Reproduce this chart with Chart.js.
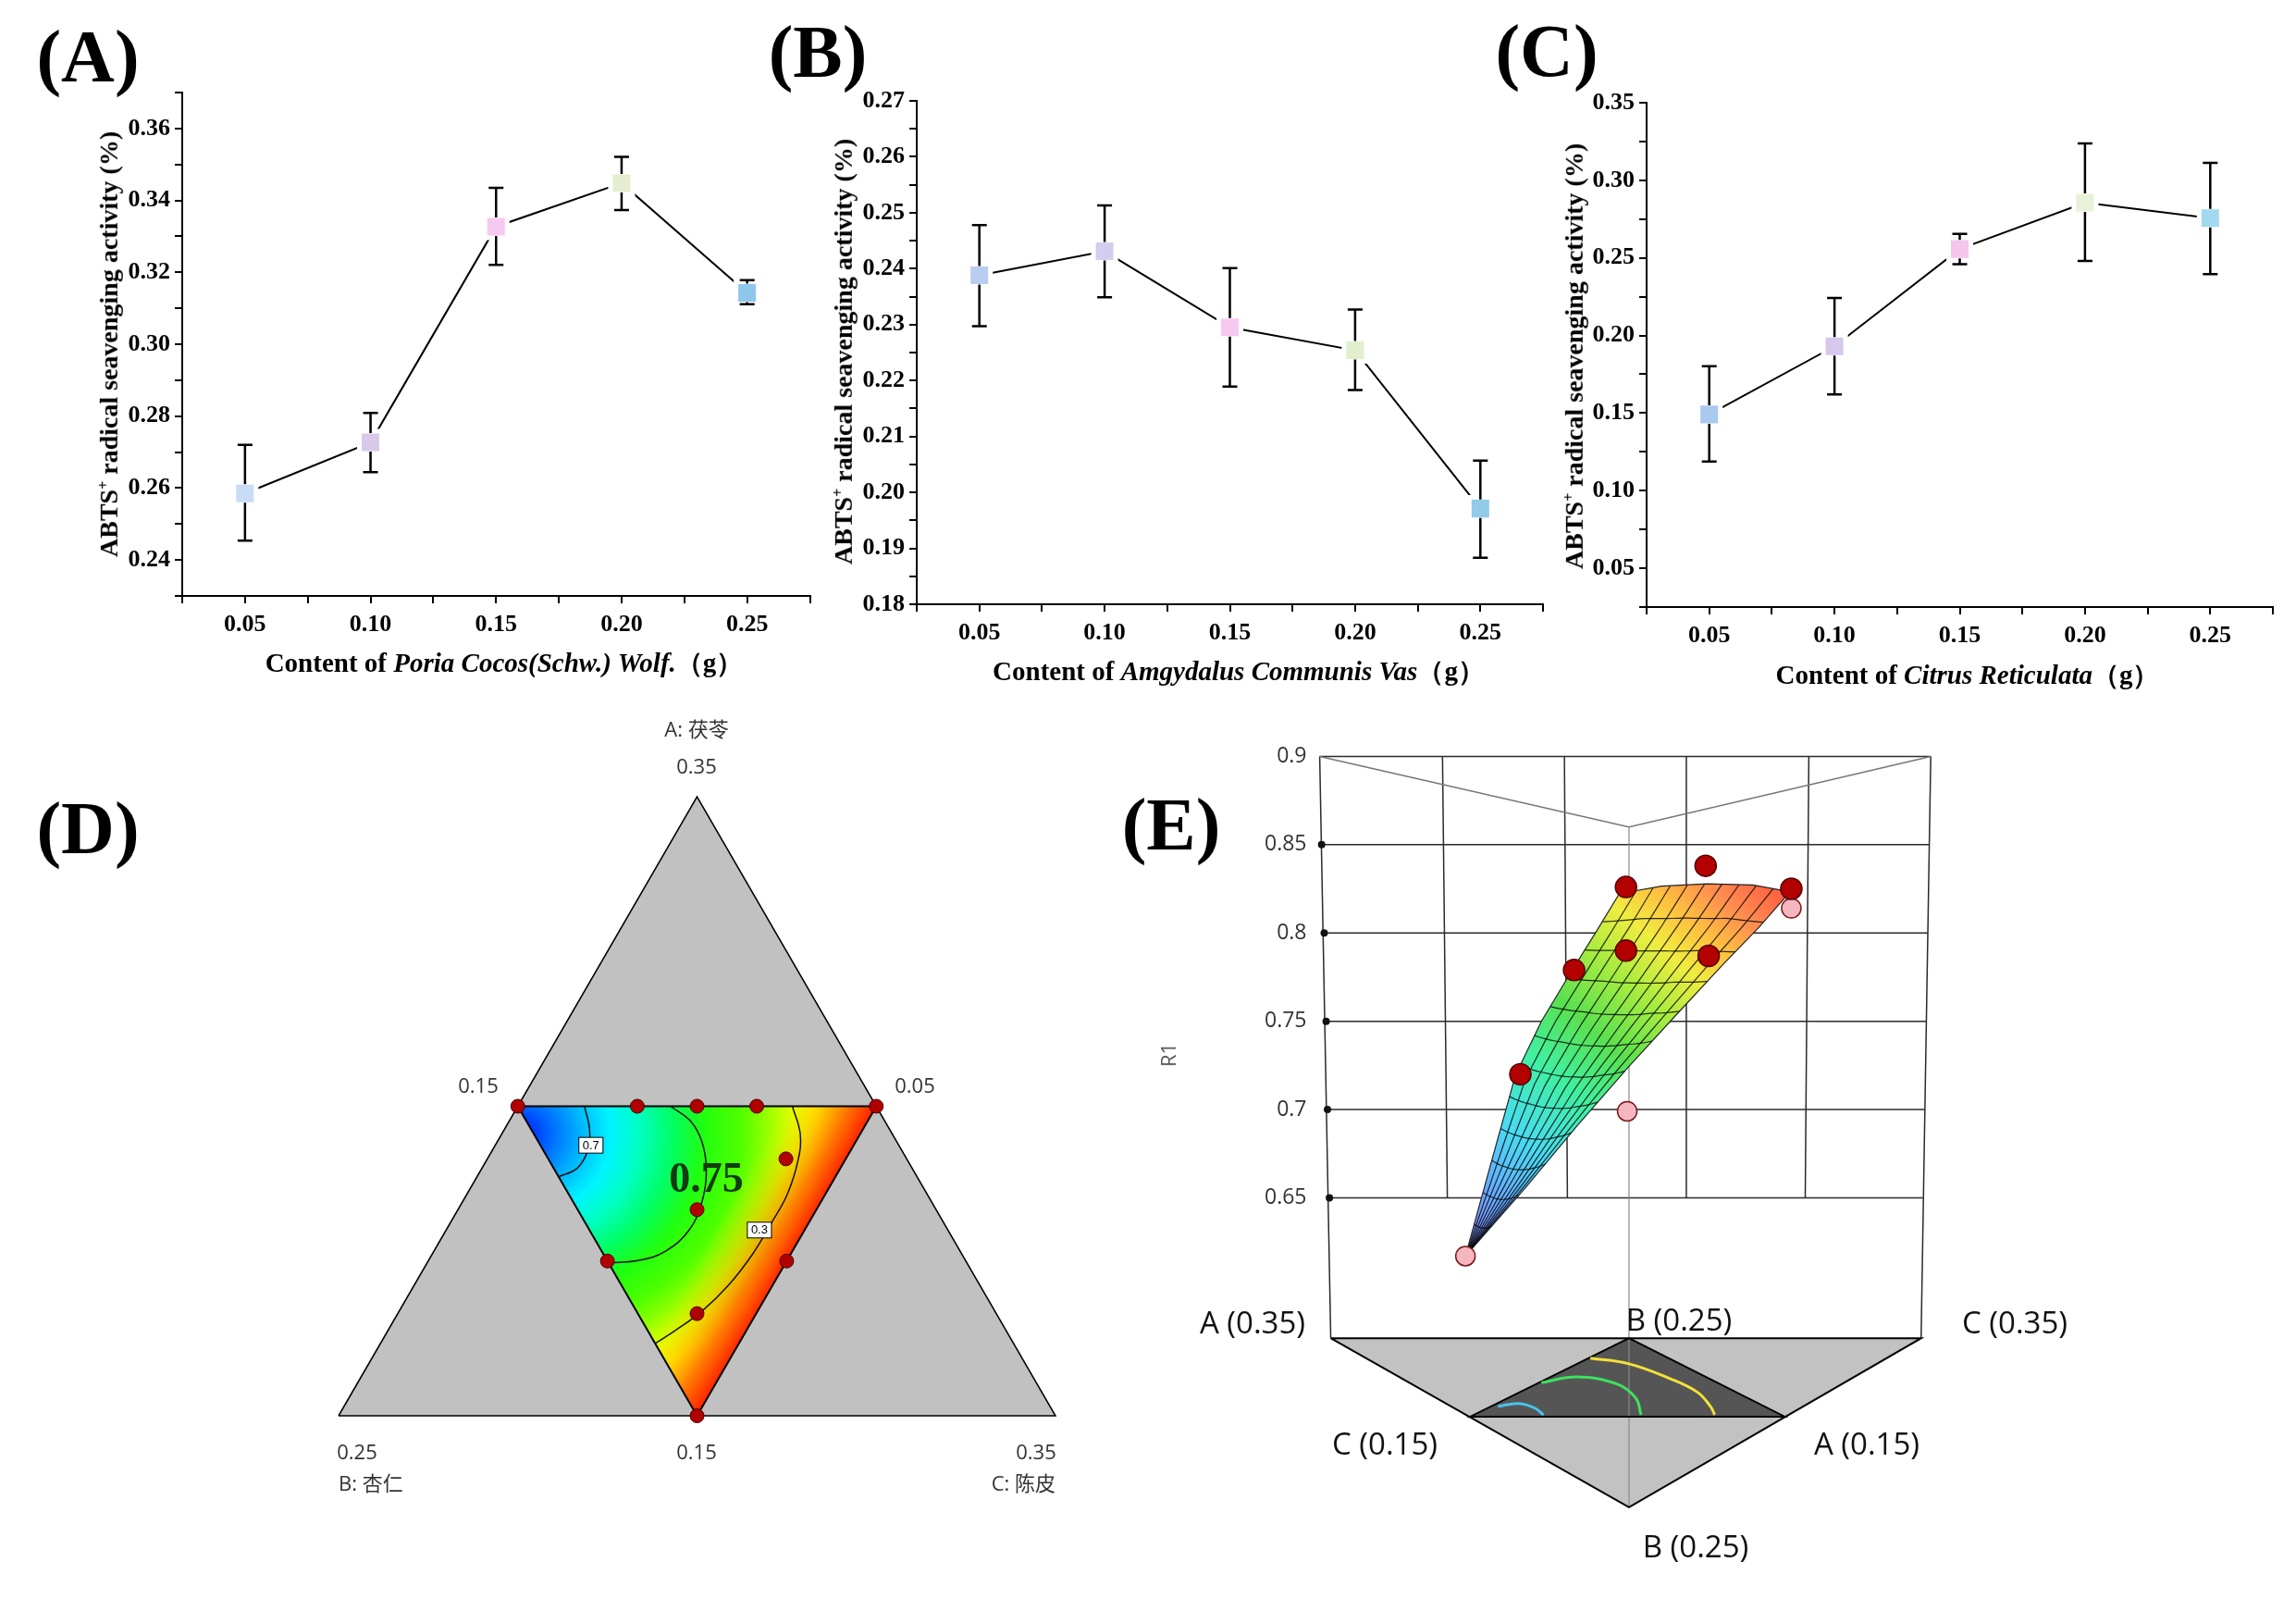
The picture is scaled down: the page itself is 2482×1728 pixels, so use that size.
<!DOCTYPE html>
<html>
<head>
<meta charset="utf-8">
<script src="https://cdn.jsdelivr.net/npm/chart.js@4.4.1/dist/chart.umd.min.js"></script>
<style>
html, body { margin: 0; padding: 0; background: #fff; }
#page { position: relative; width: 2482px; height: 1728px; overflow: hidden; background: #fff; }
canvas { position: absolute; }
.t { position: absolute; transform: translate(-50%, -50%); white-space: nowrap; line-height: 1; }
.serif { font-family: "Liberation Serif", "Times New Roman", serif; font-weight: bold; color: #000; }
.lab { font-size: 80px; }
.xt { font-size: 29px; }
.yt { font-size: 28px; transform: translate(-50%, -50%) rotate(-90deg); }
.yt sup { font-size: 16px; }
.sans { font-family: "Open Sans", "Noto Sans CJK SC", sans-serif; color: #333; }
.d { font-size: 22px; }
.e { font-size: 33px; color: #111; }
</style>
</head>
<body>
<div id="page">
  <canvas id="chartA" width="900" height="720" style="left:0px;top:0px"></canvas>
  <canvas id="chartB" width="900" height="720" style="left:800px;top:0px"></canvas>
  <canvas id="chartC" width="882" height="720" style="left:1600px;top:0px"></canvas>
  <canvas id="chartD" width="900" height="880" style="left:300px;top:760px"></canvas>
  <canvas id="chartE" width="1282" height="968" style="left:1200px;top:760px"></canvas>

  <div class="t serif lab" style="left:95px;top:61px">(A)</div>
  <div class="t serif lab" style="left:884px;top:56px">(B)</div>
  <div class="t serif lab" style="left:1672px;top:55px">(C)</div>
  <div class="t serif lab" style="left:95px;top:895px">(D)</div>
  <div class="t serif lab" style="left:1266px;top:891px">(E)</div>

  <div class="t serif xt" style="left:545px;top:716px">Content of <i>Poria Cocos(Schw.) Wolf.</i>（g）</div>
  <div class="t serif xt" style="left:1339px;top:725px">Content of <i>Amgydalus Communis Vas</i>（g）</div>
  <div class="t serif xt" style="left:2127px;top:729px">Content of <i>Citrus Reticulata</i>（g）</div>
  <div class="t serif yt" style="left:118px;top:372px">ABTS<sup>+</sup> radical seavenging activity (%)</div>
  <div class="t serif yt" style="left:912px;top:380px">ABTS<sup>+</sup> radical seavenging activity (%)</div>
  <div class="t serif yt" style="left:1702px;top:385px">ABTS<sup>+</sup> radical seavenging activity (%)</div>

  <div class="t sans d" style="left:753px;top:787px">A: 茯苓</div>
  <div class="t sans d" style="left:753px;top:827px">0.35</div>
  <div class="t sans d" style="left:517px;top:1172px">0.15</div>
  <div class="t sans d" style="left:989px;top:1172px">0.05</div>
  <div class="t sans d" style="left:386px;top:1568px">0.25</div>
  <div class="t sans d" style="left:753px;top:1568px">0.15</div>
  <div class="t sans d" style="left:1120px;top:1568px">0.35</div>
  <div class="t sans d" style="left:366px;top:1602px;transform:translate(0,-50%)">B: 杏仁</div>
  <div class="t sans d" style="left:1141px;top:1602px;transform:translate(-100%,-50%)">C: 陈皮</div>

  <div class="t sans e" style="left:1354px;top:1428px">A (0.35)</div>
  <div class="t sans e" style="left:1815px;top:1425px">B (0.25)</div>
  <div class="t sans e" style="left:2178px;top:1428px">C (0.35)</div>
  <div class="t sans e" style="left:1497px;top:1559px">C (0.15)</div>
  <div class="t sans e" style="left:2018px;top:1559px">A (0.15)</div>
  <div class="t sans e" style="left:1833px;top:1670px">B (0.25)</div>
  <div class="t sans" style="left:1262px;top:1140px;font-size:22px;color:#555;transform:translate(-50%,-50%) rotate(-90deg)">R1</div>
</div>

<script>
// single-factor experiments (A, B, C)
const doses = [0.05, 0.10, 0.15, 0.20, 0.25];
const doseLabels = ['0.05', '0.10', '0.15', '0.20', '0.25'];

const poriaMean = [0.2585, 0.2727, 0.3327, 0.3448, 0.3143];
const poriaLow  = [0.2454, 0.2644, 0.3221, 0.3373, 0.3111];
const poriaHigh = [0.2720, 0.2809, 0.3435, 0.3521, 0.3178];

const almondMean = [0.2388, 0.2431, 0.2295, 0.2254, 0.1971];
const almondLow  = [0.2297, 0.2349, 0.2189, 0.2183, 0.1883];
const almondHigh = [0.2478, 0.2513, 0.2401, 0.2327, 0.2057];

const citrusMean = [0.1491, 0.1930, 0.2557, 0.2856, 0.2756];
const citrusLow  = [0.1187, 0.1620, 0.2460, 0.2480, 0.2395];
const citrusHigh = [0.1802, 0.2241, 0.2654, 0.3238, 0.3112];

const poriaYLabels  = ['0.24', '0.26', '0.28', '0.30', '0.32', '0.34', '0.36'];
const almondYLabels = ['0.18', '0.19', '0.20', '0.21', '0.22', '0.23', '0.24', '0.25', '0.26', '0.27'];
const citrusYLabels = ['0.05', '0.10', '0.15', '0.20', '0.25', '0.30', '0.35'];

// mixture design, ternary contour (D): x/y in units of the outer triangle
const outerTriangle = [{x: 0, y: 0}, {x: 0.5, y: 1}, {x: 1, y: 0}];
const innerTriangle = [{x: 0.25, y: 0.5}, {x: 0.75, y: 0.5}, {x: 0.5, y: 0}];
const designRuns = [
  {x: 0.25, y: 0.5}, {x: 0.4167, y: 0.5}, {x: 0.5, y: 0.5}, {x: 0.5833, y: 0.5}, {x: 0.75, y: 0.5},
  {x: 0.375, y: 0.25}, {x: 0.625, y: 0.25}, {x: 0.5, y: 0}, {x: 0.5, y: 0.333},
  {x: 0.624, y: 0.415}, {x: 0.5, y: 0.165}
];
const contour70 = [{x: 0.343, y: 0.5}, {x: 0.350, y: 0.463}, {x: 0.348, y: 0.430}, {x: 0.333, y: 0.400}, {x: 0.307, y: 0.386}];
const contour75 = [{x: 0.463, y: 0.5}, {x: 0.491, y: 0.476}, {x: 0.507, y: 0.442}, {x: 0.513, y: 0.396},
  {x: 0.507, y: 0.346}, {x: 0.489, y: 0.300}, {x: 0.456, y: 0.266}, {x: 0.419, y: 0.251}, {x: 0.377, y: 0.247}];
const contour80 = [{x: 0.633, y: 0.5}, {x: 0.644, y: 0.455}, {x: 0.641, y: 0.413}, {x: 0.626, y: 0.358},
  {x: 0.604, y: 0.312}, {x: 0.578, y: 0.262}, {x: 0.544, y: 0.211}, {x: 0.507, y: 0.169}, {x: 0.470, y: 0.138}, {x: 0.442, y: 0.117}];
const contourTags = [{text: '0.7', x: 0.352, y: 0.437}, {text: '0.3', x: 0.587, y: 0.300}];
const contourValue = {text: '0.75', x: 0.513, y: 0.379};

// 3D response surface (E): x across the box, y is R1
const eLevels = [0.9, 0.85, 0.8, 0.75, 0.7, 0.65];
const eLevelLeft = [-0.0075, -0.0043, 0, 0.0032, 0.0054, 0.0086];
const eLevelRight = [1.005, 1.003, 1.0, 0.998, 0.995, 0.992];
const eColTop = [0.196, 0.398, 0.6, 0.803];
const eColBottom = [0.204, 0.403, 0.6, 0.797];
const eRoof = [{x: -0.0075, y: 0.9}, {x: 0.505, y: 0.86}, {x: 1.005, y: 0.9}];
const eBaseOuter = [{x: 0.0108, y: 0.5705}, {x: 0.989, y: 0.5705}, {x: 0.505, y: 0.4748}];
const eBaseInner = [{x: 0.505, y: 0.5705}, {x: 0.763, y: 0.5261}, {x: 0.242, y: 0.5261}];
const eBaseCyan = [{x: 0.288, y: 0.5319}, {x: 0.3226, y: 0.5335}, {x: 0.349, y: 0.5309}, {x: 0.3634, y: 0.5271}];
const eBaseGreen = [{x: 0.360, y: 0.5454}, {x: 0.419, y: 0.5486}, {x: 0.484, y: 0.5447}, {x: 0.516, y: 0.5367}, {x: 0.525, y: 0.5271}];
const eBaseYellow = [{x: 0.441, y: 0.5592}, {x: 0.505, y: 0.556}, {x: 0.570, y: 0.548}, {x: 0.618, y: 0.540}, {x: 0.640, y: 0.5319}, {x: 0.647, y: 0.5271}];
const surfLeft = [{x: 0.234, y: 0.617}, {x: 0.274, y: 0.6667}, {x: 0.317, y: 0.7196}, {x: 0.360, y: 0.7501},
  {x: 0.411, y: 0.779}, {x: 0.452, y: 0.8015}, {x: 0.489, y: 0.8223}];
const surfTop = [{x: 0.489, y: 0.8223}, {x: 0.559, y: 0.8265}, {x: 0.634, y: 0.8278}, {x: 0.710, y: 0.8272}, {x: 0.772, y: 0.8233}];
const surfRight = [{x: 0.772, y: 0.8233}, {x: 0.720, y: 0.8031}, {x: 0.661, y: 0.7822}, {x: 0.591, y: 0.7565},
  {x: 0.505, y: 0.7245}, {x: 0.419, y: 0.6908}, {x: 0.333, y: 0.6555}, {x: 0.234, y: 0.617}];
const runsAbove = [{x: 0.5, y: 0.826}, {x: 0.632, y: 0.838}, {x: 0.774, y: 0.825}, {x: 0.414, y: 0.779},
  {x: 0.5, y: 0.790}, {x: 0.637, y: 0.787}, {x: 0.325, y: 0.720}];
const runsBelow = [{x: 0.774, y: 0.814}, {x: 0.502, y: 0.699}, {x: 0.234, y: 0.617}];

const poriaColors  = ['#c8ddf5', '#d9c9e9', '#f6c9f0', '#e4edcf', '#8fc6ec'];
const almondColors = ['#b8cdef', '#d4cdef', '#f7c9f1', '#e1efcd', '#92cbe7'];
const citrusColors = ['#a9c9ef', '#d6c8ec', '#f5c6ed', '#e7f2d8', '#a3d8f1'];

Chart.defaults.animation = false;
Chart.defaults.devicePixelRatio = 1;
Chart.defaults.events = [];
Chart.defaults.plugins.legend.display = false;
Chart.defaults.plugins.tooltip.enabled = false;

const tickFont = {family: '"Liberation Serif", "Times New Roman", serif', size: 26, weight: 'bold'};

function onTick(v) { return Math.abs(v * 100 - Math.round(v * 100)) < 1e-6; }

// error bars drawn after the markers so they stop at the square's edge
const errorBars = {
  id: 'errorBars',
  afterDatasetsDraw(chart, args, opts) {
    const {ctx, scales: {x, y}} = chart;
    ctx.save();
    ctx.strokeStyle = '#000';
    ctx.lineWidth = 2.5;
    doses.forEach((d, i) => {
      const px = x.getPixelForValue(d);
      const ym = y.getPixelForValue(opts.mean[i]);
      const y1 = y.getPixelForValue(opts.high[i]);
      const y2 = y.getPixelForValue(opts.low[i]);
      ctx.beginPath();
      if (y1 < ym - 10) { ctx.moveTo(px, y1); ctx.lineTo(px, ym - 10); }
      if (y2 > ym + 10) { ctx.moveTo(px, ym + 10); ctx.lineTo(px, y2); }
      ctx.moveTo(px - 8, y1); ctx.lineTo(px + 8, y1);
      ctx.moveTo(px - 8, y2); ctx.lineTo(px + 8, y2);
      ctx.stroke();
    });
    ctx.restore();
  }
};

function dosePanel(id, mean, low, high, colors, y, box) {
  new Chart(document.getElementById(id), {
    type: 'scatter',
    data: {
      datasets: [{
        data: doses.map((d, i) => ({x: d, y: mean[i]})),
        showLine: true,
        borderColor: '#000',
        borderWidth: 2,
        pointStyle: 'rect',
        pointRadius: 17,
        pointBackgroundColor: colors,
        pointBorderColor: '#fff',
        pointBorderWidth: 5
      }]
    },
    options: {
      responsive: false,
      layout: {padding: {left: 0, top: box.top, right: box.right, bottom: 0}},
      plugins: {errorBars: {mean, low, high}},
      scales: {
        x: {
          type: 'linear', min: 0.025, max: 0.275,
          afterFit: s => { s.height = box.xh; },
          ticks: {
            stepSize: 0.025, autoSkip: false, maxRotation: 0, padding: 8, color: '#000', font: tickFont,
            callback: v => (onTick(v) && doseLabels.includes(v.toFixed(2))) ? v.toFixed(2) : ''
          },
          grid: {drawOnChartArea: false, color: '#000', lineWidth: 2, tickLength: 8},
          border: {color: '#000', width: 2}
        },
        y: {
          min: y.min, max: y.max,
          afterFit: s => { s.width = box.yw; },
          ticks: {
            stepSize: y.step, autoSkip: false, padding: 5, color: '#000', font: tickFont,
            callback: v => (onTick(v) && y.labels.includes(v.toFixed(2))) ? v.toFixed(2) : ''
          },
          grid: {drawOnChartArea: false, color: '#000', lineWidth: 2, tickLength: 8},
          border: {color: '#000', width: 2}
        }
      }
    },
    plugins: [errorBars]
  });
}

dosePanel('chartA', poriaMean, poriaLow, poriaHigh, poriaColors,
  {min: 0.23, max: 0.37, step: 0.01, labels: poriaYLabels}, {top: 100, right: 24.5, yw: 197, xh: 76});
dosePanel('chartB', almondMean, almondLow, almondHigh, almondColors,
  {min: 0.18, max: 0.27, step: 0.005, labels: almondYLabels}, {top: 109, right: 32, yw: 191, xh: 67});
dosePanel('chartC', citrusMean, citrusLow, citrusHigh, citrusColors,
  {min: 0.025, max: 0.35, step: 0.025, labels: citrusYLabels}, {top: 111, right: 25, yw: 180, xh: 64});

function seg(data, color, width, order, extra) {
  return Object.assign({data, showLine: true, borderColor: color, borderWidth: width, pointRadius: 0,
    fill: false, clip: false, order, tension: 0}, extra || {});
}
function closed(pts) { return pts.concat([pts[0]]); }
function tracePoly(ctx, x, y, pts) {
  ctx.beginPath();
  pts.forEach((p, i) => {
    const px = x.getPixelForValue(p.x), py = y.getPixelForValue(p.y);
    if (i) ctx.lineTo(px, py); else ctx.moveTo(px, py);
  });
  ctx.closePath();
}

// ---- (D) ternary contour
const ternaryShade = {
  id: 'ternaryShade',
  beforeDatasetsDraw(chart) {
    const {ctx, scales: {x, y}} = chart;
    ctx.save();
    tracePoly(ctx, x, y, outerTriangle);
    ctx.fillStyle = '#c1c1c1';
    ctx.fill();

    // red/orange band along the C-rich edge
    const tr = [x.getPixelForValue(innerTriangle[1].x), y.getPixelForValue(innerTriangle[1].y)];
    const bt = [x.getPixelForValue(innerTriangle[2].x), y.getPixelForValue(innerTriangle[2].y)];
    const ex = bt[0] - tr[0], ey = bt[1] - tr[1], el = Math.hypot(ex, ey);
    const nx = -ey / el, ny = ex / el;   // points into the triangle
    const edge = ctx.createLinearGradient(tr[0], tr[1], tr[0] + nx * 85, tr[1] + ny * 85);
    [[0, 'rgba(255,30,0,0.95)'], [0.3, 'rgba(255,95,0,0.75)'], [0.62, 'rgba(255,175,0,0.4)'], [1, 'rgba(255,235,0,0)']]
      .forEach(s => edge.addColorStop(s[0], s[1]));

    ctx.save();
    tracePoly(ctx, x, y, innerTriangle);
    const cx = x.getPixelForValue(0.2496), cy = y.getPixelForValue(0.455);
    const rx = x.getPixelForValue(0.2496 + 0.52) - cx;
    const ry = cy - y.getPixelForValue(0.455 + 0.537);
    ctx.translate(cx, cy);
    ctx.scale(1, ry / rx);
    const g = ctx.createRadialGradient(0, 0, 0, 0, 0, rx);
    [[0, '#0010ff'], [0.08, '#0060ff'], [0.17, '#00b4ff'], [0.25, '#00f4ff'], [0.33, '#00ffc0'],
     [0.41, '#00ff6a'], [0.5, '#20ff10'], [0.6, '#50ff00'], [0.68, '#a0ff00'], [0.74, '#e0ff00'],
     [0.8, '#fff000'], [0.88, '#ffc000'], [0.95, '#ff8000'], [1, '#ff5000']]
      .forEach(s => g.addColorStop(s[0], s[1]));
    ctx.fillStyle = g;
    ctx.fill();
    ctx.restore();

    tracePoly(ctx, x, y, innerTriangle);
    ctx.fillStyle = edge;
    ctx.fill();
    ctx.restore();
  },
  afterDatasetsDraw(chart) {
    const {ctx, scales: {x, y}} = chart;
    ctx.save();
    ctx.textAlign = 'center';
    ctx.textBaseline = 'middle';
    ctx.font = '13px "Liberation Sans", sans-serif';
    contourTags.forEach(t => {
      const px = x.getPixelForValue(t.x), py = y.getPixelForValue(t.y);
      const w = ctx.measureText(t.text).width + 8;
      ctx.fillStyle = '#fff';
      ctx.fillRect(px - w / 2, py - 8.5, w, 17);
      ctx.strokeStyle = '#000';
      ctx.lineWidth = 1;
      ctx.strokeRect(px - w / 2, py - 8.5, w, 17);
      ctx.fillStyle = '#000';
      ctx.fillText(t.text, px, py + 0.5);
    });
    ctx.font = 'bold 46px "Liberation Serif", serif';
    ctx.fillStyle = '#143a10';
    ctx.fillText(contourValue.text, x.getPixelForValue(contourValue.x), y.getPixelForValue(contourValue.y));
    ctx.restore();
  }
};

new Chart(document.getElementById('chartD'), {
  type: 'scatter',
  data: {
    datasets: [
      {data: designRuns, pointRadius: 7.5, pointBackgroundColor: '#b00000', pointBorderColor: '#4a0000',
        pointBorderWidth: 1, clip: false, order: 0},
      seg(contour70, '#111', 1.5, 2, {tension: 0.4}),
      seg(contour75, '#111', 1.5, 2, {tension: 0.4}),
      seg(contour80, '#111', 1.5, 2, {tension: 0.4}),
      seg(closed(innerTriangle), '#000', 2, 3),
      seg(closed(outerTriangle), '#000', 1.5, 3)
    ]
  },
  options: {
    responsive: false,
    layout: {padding: {left: 66, right: 59, top: 101, bottom: 110}},
    scales: {
      x: {display: false, min: 0, max: 1},
      y: {display: false, min: 0, max: 1}
    }
  },
  plugins: [ternaryShade]
});

// ---- (E) response surface
function pixelPath(scales, pts) {
  return pts.map(p => [scales.x.getPixelForValue(p.x), scales.y.getPixelForValue(p.y)]);
}
function along(path) {
  const d = [0];
  for (let i = 1; i < path.length; i++) {
    d.push(d[i - 1] + Math.hypot(path[i][0] - path[i - 1][0], path[i][1] - path[i - 1][1]));
  }
  return t => {
    const L = t * d[d.length - 1];
    let i = 1;
    while (i < d.length - 1 && d[i] < L) i++;
    const f = (L - d[i - 1]) / ((d[i] - d[i - 1]) || 1);
    return [path[i - 1][0] + f * (path[i][0] - path[i - 1][0]), path[i - 1][1] + f * (path[i][1] - path[i - 1][1])];
  };
}

const surfaceShade = {
  id: 'surfaceShade',
  beforeDatasetsDraw(chart) {
    const {ctx, scales: {x, y}} = chart;
    ctx.save();
    tracePoly(ctx, x, y, eBaseOuter);
    ctx.fillStyle = '#c2c2c2';
    ctx.fill();
    tracePoly(ctx, x, y, eBaseInner);
    ctx.fillStyle = '#555555';
    ctx.fill();
    ctx.restore();
  },
  beforeDatasetDraw(chart, args) {
    if (chart.data.datasets[args.index].label !== 'surface') return;
    const {ctx, scales} = chart;
    const L = along(pixelPath(scales, surfLeft));
    const R = along(pixelPath(scales, surfRight.slice().reverse()));
    const T = along(pixelPath(scales, surfTop));
    const T0 = T(0), T1 = T(1);
    const P = (u, v) => {
      const a = L(v), b = R(v), t = T(u);
      const bx = a[0] + u * (b[0] - a[0]), by = a[1] + u * (b[1] - a[1]);
      const cx = t[0] - (T0[0] + u * (T1[0] - T0[0])), cy = t[1] - (T0[1] + u * (T1[1] - T0[1]));
      const sag = 14 * 4 * u * (1 - u) * 4 * v * (1 - v);
      return [bx + v * cx, by + v * cy + sag];
    };
    ctx.save();
    ctx.beginPath();
    for (let i = 0; i <= 40; i++) { const p = P(0, i / 40); i ? ctx.lineTo(p[0], p[1]) : ctx.moveTo(p[0], p[1]); }
    for (let i = 0; i <= 40; i++) { const p = P(i / 40, 1); ctx.lineTo(p[0], p[1]); }
    for (let i = 40; i >= 0; i--) { const p = P(1, i / 40); ctx.lineTo(p[0], p[1]); }
    ctx.closePath();
    const tip = L(0);
    const g = ctx.createLinearGradient(tip[0], tip[1], T1[0], T1[1]);
    [[0, '#8a84f4'], [0.12, '#6aa6ff'], [0.26, '#48dcf0'], [0.4, '#40f0a0'], [0.52, '#5ae050'],
     [0.64, '#a8ec40'], [0.74, '#f0ec40'], [0.82, '#ffc040'], [0.9, '#ff8c50'], [1, '#ff5a40']]
      .forEach(s => g.addColorStop(s[0], s[1]));
    ctx.fillStyle = g;
    ctx.fill();
    ctx.strokeStyle = 'rgba(0,0,0,0.8)';
    ctx.lineWidth = 1.2;
    for (let i = 1; i < 12; i++) {
      ctx.beginPath();
      for (let k = 0; k <= 30; k++) { const p = P(k / 30, i / 12); k ? ctx.lineTo(p[0], p[1]) : ctx.moveTo(p[0], p[1]); }
      ctx.stroke();
    }
    for (let j = 1; j < 10; j++) {
      ctx.beginPath();
      for (let k = 0; k <= 30; k++) { const p = P(j / 10, k / 30); k ? ctx.lineTo(p[0], p[1]) : ctx.moveTo(p[0], p[1]); }
      ctx.stroke();
    }
    ctx.restore();
  }
};

const eDatasets = [
  {data: runsAbove, pointRadius: 11.5, pointBackgroundColor: '#b30000', pointBorderColor: '#500000',
    pointBorderWidth: 1.5, clip: false, order: 0},
  {data: runsBelow, pointRadius: 10.5, pointBackgroundColor: '#f5b6bf', pointBorderColor: '#7a1a1a',
    pointBorderWidth: 1.5, clip: false, order: 1},
  seg(surfLeft.concat(surfTop, surfRight), '#222', 1.2, 3, {label: 'surface'}),
  seg(eBaseCyan, '#49c2f0', 3, 6, {tension: 0.4}),
  seg(eBaseGreen, '#3fe060', 3, 6, {tension: 0.4}),
  seg(eBaseYellow, '#f4e13a', 3, 6, {tension: 0.4}),
  seg(closed(eBaseInner), '#000', 2, 7),
  seg(closed(eBaseOuter), '#000', 2, 7),
  seg([{x: 0.505, y: 0.86}, {x: 0.505, y: 0.4748}], '#8a8a8a', 1.2, 8),
  seg(eRoof, '#777', 1.5, 9),
  seg([{x: eLevelLeft[0], y: 0.9}, {x: 0.0108, y: 0.5705}], '#2b2b2b', 1.5, 9),
  seg([{x: eLevelRight[0], y: 0.9}, {x: 0.989, y: 0.5705}], '#2b2b2b', 1.5, 9),
  {data: eLevels.map((v, i) => ({x: eLevelLeft[i], y: v})), pointRadius: 4, pointBackgroundColor: '#111',
    pointBorderWidth: 0, clip: false, order: 2}
];
eLevels.forEach((v, i) => eDatasets.push(seg([{x: eLevelLeft[i], y: v}, {x: eLevelRight[i], y: v}], '#2b2b2b', 1.5, 9)));
eColTop.forEach((c, i) => eDatasets.push(seg([{x: c, y: 0.9}, {x: eColBottom[i], y: 0.65}], '#2b2b2b', 1.5, 9)));

new Chart(document.getElementById('chartE'), {
  type: 'scatter',
  data: {datasets: eDatasets},
  options: {
    responsive: false,
    layout: {padding: {left: 111.5, right: 398.1, top: 57.4, bottom: 25.7}},
    scales: {
      x: {display: false, min: 0, max: 1},
      y: {
        min: 0.44, max: 0.9,
        afterFit: s => { s.width = 120; },
        afterBuildTicks: s => { s.ticks = eLevels.map(v => ({value: v})); },
        ticks: {autoSkip: false, padding: 19, color: '#333', font: {family: '"Open Sans", sans-serif', size: 23},
          callback: v => String(Number(v.toFixed(2)))},
        grid: {display: false, drawTicks: false},
        border: {display: false}
      }
    }
  },
  plugins: [surfaceShade]
});
</script>
</body>
</html>
